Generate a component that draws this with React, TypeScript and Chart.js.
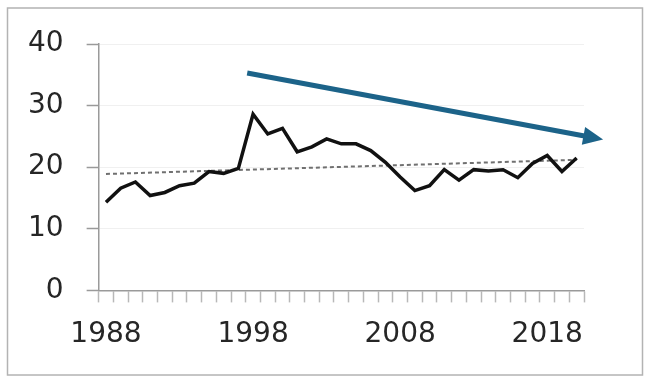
import React, { useEffect, useRef } from 'react';
import { Chart, registerables } from 'chart.js';

Chart.register(...registerables);

const years = [
  '1988', '1989', '1990', '1991', '1992', '1993', '1994', '1995', '1996', '1997',
  '1998', '1999', '2000', '2001', '2002', '2003', '2004', '2005', '2006', '2007',
  '2008', '2009', '2010', '2011', '2012', '2013', '2014', '2015', '2016', '2017',
  '2018', '2019', '2020',
];
const values = [
  14.3, 16.6, 17.6, 15.4, 15.9, 17.0, 17.4, 19.3, 19.0, 19.8,
  28.6, 25.4, 26.3, 22.5, 23.3, 24.6, 23.8, 23.8, 22.7, 20.8,
  18.4, 16.2, 17.0, 19.6, 17.9, 19.6, 19.4, 19.6, 18.3, 20.6,
  21.9, 19.3, 21.5,
];
const shownYearLabels = ['1988', '1998', '2008', '2018'];
const yTicks = [0, 10, 20, 30, 40];
const trendStart = 18.9;
const trendEnd = 21.2;
// arrow endpoints in data units: [category index, value]
const arrowFrom = [9.6, 35.3];
const arrowTo = [33.8, 24.5];

const FONT = "'DejaVu Sans', sans-serif";

const framePlugin = {
  id: 'frame',
  afterDraw(chart: any) {
    const ctx = chart.ctx;
    ctx.save();
    ctx.strokeStyle = '#b3b3b3';
    ctx.lineWidth = 1.5;
    ctx.strokeRect(7.5, 8, 635, 367);
    ctx.restore();
  },
};

const arrowPlugin = {
  id: 'arrow',
  afterDatasetsDraw(chart: any) {
    const { x, y } = chart.scales;
    const x1 = x.getPixelForValue(arrowFrom[0]);
    const y1 = y.getPixelForValue(arrowFrom[1]);
    const x2 = x.getPixelForValue(arrowTo[0]);
    const y2 = y.getPixelForValue(arrowTo[1]);
    const ang = Math.atan2(y2 - y1, x2 - x1);
    const headLen = 20;
    const headHalf = 9;
    const bx = x2 - headLen * Math.cos(ang);
    const by = y2 - headLen * Math.sin(ang);
    const ctx = chart.ctx;
    ctx.save();
    ctx.strokeStyle = '#1c6389';
    ctx.fillStyle = '#1c6389';
    ctx.lineWidth = 5;
    ctx.lineCap = 'butt';
    ctx.beginPath();
    ctx.moveTo(x1, y1);
    ctx.lineTo(bx + Math.cos(ang), by + Math.sin(ang));
    ctx.stroke();
    ctx.beginPath();
    ctx.moveTo(x2, y2);
    ctx.lineTo(bx - headHalf * Math.sin(ang), by + headHalf * Math.cos(ang));
    ctx.lineTo(bx + headHalf * Math.sin(ang), by - headHalf * Math.cos(ang));
    ctx.closePath();
    ctx.fill();
    ctx.restore();
  },
};

export default function App() {
  const ref = useRef<HTMLCanvasElement | null>(null);

  useEffect(() => {
    if (!ref.current) return;
    const trendData = years.map((_, i) =>
      i === 0 ? trendStart : i === years.length - 1 ? trendEnd : null
    );
    const chart = new Chart(ref.current, {
      type: 'line',
      data: {
        labels: years,
        datasets: [
          {
            data: values,
            borderColor: '#111111',
            borderWidth: 3.5,
            pointRadius: 0,
            tension: 0,
            fill: false,
            borderJoinStyle: 'miter',
          },
          {
            data: trendData,
            borderColor: '#707070',
            borderWidth: 2,
            borderDash: [4, 3],
            pointRadius: 0,
            tension: 0,
            fill: false,
            spanGaps: true,
          },
        ],
      },
      options: {
        responsive: false,
        animation: false,
        events: [],
        layout: { padding: { left: 5, right: 66, top: 44, bottom: 16 } },
        plugins: {
          legend: { display: false },
          tooltip: { enabled: false },
          title: { display: false },
        },
        scales: {
          x: {
            type: 'category',
            offset: true,
            grid: {
              offset: true,
              drawOnChartArea: false,
              drawTicks: true,
              tickLength: 12,
              tickColor: '#b8b8b8',
              tickWidth: 1.5,
            },
            border: { display: true, color: '#9a9a9a', width: 1.5 },
            ticks: {
              autoSkip: false,
              maxRotation: 0,
              minRotation: 0,
              padding: 16,
              color: '#262626',
              font: { family: FONT, size: 28 },
              callback: (_v: any, i: number) =>
                shownYearLabels.includes(years[i]) ? years[i] : '',
            },
          },
          y: {
            min: yTicks[0],
            max: yTicks[yTicks.length - 1],
            afterBuildTicks: (scale: any) => {
              scale.ticks = yTicks.map((v) => ({ value: v }));
            },
            grid: {
              color: '#f0f0f0',
              lineWidth: 1,
              drawTicks: true,
              tickLength: 12,
              tickColor: '#9a9a9a',
              tickWidth: 1.5,
            },
            border: { display: true, color: '#9a9a9a', width: 1.5 },
            ticks: {
              padding: 23,
              color: '#262626',
              font: { family: FONT, size: 28 },
            },
          },
        },
      },
      plugins: [arrowPlugin, framePlugin],
    } as any);
    return () => chart.destroy();
  }, []);

  return (
    <div style={{ position: 'absolute', left: 0, top: 0, width: 650, height: 384, background: '#ffffff' }}>
      <canvas ref={ref} width={650} height={384} style={{ display: 'block', width: 650, height: 384 }} />
    </div>
  );
}
